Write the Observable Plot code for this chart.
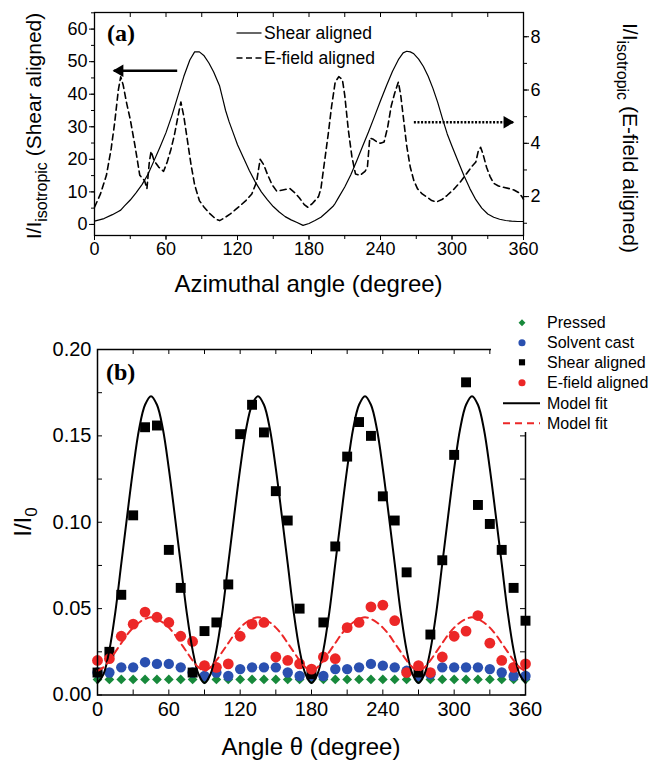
<!DOCTYPE html>
<html><head><meta charset="utf-8">
<script src="https://cdn.jsdelivr.net/npm/d3@7"></script>
<script src="https://cdn.jsdelivr.net/npm/@observablehq/plot@0.6"></script>
<style>
body{margin:0;background:#fff;}
#wrap{position:relative;width:653px;height:764px;overflow:hidden;background:#fff;}
#wrap svg{position:absolute;left:0;}
</style></head><body><div id="wrap"></div>
<script>
// ---------- Panel (a) data ----------
const shearAngleA = [0,8,15,20,22,25,30,35,40,45,50,55,60,65,70,75,80,84,88,92,96,100,105,108,110,113,116,120,125,130,135,140,145,150,155,160,165,170,175,180,185,190,195,200,202,205,210,215,220,225,230,235,240,245,250,255,259,262,265,268,272,276,280,284,288,292,296,300,305,310,315,320,325,330,335,340,345,350,355,360];
const shearValueA = [1.0,1.8,3.0,4.0,4.4,5.6,7.5,9.8,12.3,15.5,19.6,23.8,28.2,33.5,39.5,45.5,50.5,53.0,53.0,51.8,49.6,46.8,42.5,38.0,35.0,31.5,28.5,24.5,20.5,16.5,13.0,10.0,7.6,5.5,3.8,2.4,1.4,0.6,-0.3,0.3,1.2,2.2,3.8,5.5,6.5,8.4,11.5,15.2,19.5,24.0,28.5,33.2,38.0,42.6,47.0,50.6,52.7,53.2,53.0,52.4,50.8,48.5,45.5,41.8,37.5,32.5,27.8,24.0,19.5,15.0,11.0,7.6,5.0,3.2,2.2,1.6,1.2,1.0,0.9,0.9];
const efieldAngleA = [0,5,10,14,17,20,22,24,27,30,34,38,42,44,46,47.5,50,54,58,61,64,67,70,72.5,75,78,81,84,88,92,97,102,105,109,114,118,122,127,132,136,139,142,145,149,153,158,164,168,172,176,179,183,188,190,193,196,199,202,205,208,210,213,216,219,223,227,229,231,234,237,240,243,246,249,252,255,257,259.5,262,265,268,271,275,279,283,287,292,296,301,307,312,317,320,322,324,326,329,332,335,339,343,348,352,356,359,360];
const efieldValueA = [1.6,2.1,2.8,3.8,4.8,6.0,6.5,6.2,5.5,4.9,3.9,2.8,2.6,2.3,3.3,3.7,3.35,3.1,2.95,3.3,3.75,4.3,5.0,5.55,5.0,4.1,3.2,2.45,1.85,1.6,1.35,1.15,1.1,1.2,1.35,1.5,1.65,1.85,2.1,2.55,3.4,3.2,2.85,2.45,2.2,2.25,2.3,2.15,1.95,1.7,1.6,1.75,2.0,2.3,3.3,4.3,5.4,6.3,6.5,6.4,5.8,4.5,3.5,2.85,2.8,2.95,3.1,4.2,4.15,4.05,4.0,4.05,4.6,5.4,5.9,6.3,5.8,4.85,3.9,3.1,2.6,2.3,2.1,1.98,1.85,1.8,1.9,2.05,2.25,2.55,2.85,3.15,3.3,3.7,3.85,3.6,3.1,2.75,2.5,2.4,2.35,2.3,2.25,2.15,1.98,1.9];
const seriesNamesA = ["Shear aligned","E-field aligned"];
const xTickLabels = [0,60,120,180,240,300,360];
const xMinorTicks = [0,30,60,90,120,150,180,210,240,270,300,330,360];
const leftTicksA = [0,10,20,30,40,50,60];
const leftMinorA = [0,5,10,15,20,25,30,35,40,45,50,55,60,65];
const rightTicksA = [2,4,6,8];
const rightMinorA = [1,2,3,4,5,6,7,8];
// annotation arrows (angle, left-axis units)
const arrowSolid = {x1: 69.4, x2: 16.2, y: 47.2};
const arrowDotted = {x1: 268, x2: 351.3, y: 31.4};

// ---------- Panel (b) data ----------
const angleB = [0,10,20,30,40,50,60,70,80,90,100,110,120,130,140,150,160,170,180,190,200,210,220,230,240,250,260,270,280,290,300,310,320,330,340,350,360];
const pressedB = [0.009,0.009,0.009,0.009,0.009,0.009,0.009,0.009,0.009,0.009,0.009,0.009,0.009,0.009,0.009,0.009,0.009,0.009,0.009,0.009,0.009,0.009,0.009,0.009,0.009,0.009,0.009,0.009,0.009,0.009,0.009,0.009,0.009,0.009,0.009,0.009,0.009];
const solventB = [0.013,0.013,0.016,0.016,0.019,0.018,0.018,0.016,0.013,0.011,0.013,0.011,0.015,0.016,0.016,0.016,0.013,0.011,0.011,0.011,0.015,0.015,0.016,0.018,0.017,0.016,0.014,0.011,0.012,0.016,0.016,0.016,0.016,0.015,0.013,0.011,0.011];
const shearB = [0.013,0.025,0.058,0.104,0.155,0.156,0.084,0.062,0.013,0.037,0.042,0.064,0.151,0.168,0.152,0.118,0.101,0.050,0.012,0.042,0.086,0.138,0.158,0.150,0.115,0.101,0.071,0.013,0.035,0.078,0.139,0.181,0.110,0.099,0.084,0.062,0.043];
const efieldB = [0.020,0.021,0.034,0.041,0.048,0.045,0.042,0.034,0.031,0.017,0.016,0.018,0.034,0.041,0.042,0.022,0.020,0.018,0.015,0.022,0.021,0.039,0.042,0.051,0.052,0.043,0.013,0.017,0.013,0.022,0.034,0.037,0.046,0.030,0.020,0.016,0.018];
const fitAngleB = [0,5,10,15,20,25,30,35,40,45,50,55,60,65,70,75,80,85,90,95,100,105,110,115,120,125,130,135,140,145,150,155,160,165,170,175,180,185,190,195,200,205,210,215,220,225,230,235,240,245,250,255,260,265,270,275,280,285,290,295,300,305,310,315,320,325,330,335,340,345,350,355,360];
const fitShearB = [0.007,0.012,0.026,0.048,0.076,0.104,0.131,0.154,0.168,0.173,0.168,0.154,0.131,0.104,0.076,0.048,0.026,0.012,
  0.007,0.012,0.026,0.048,0.076,0.104,0.131,0.154,0.168,0.173,0.168,0.154,0.131,0.104,0.076,0.048,0.026,0.012,
  0.007,0.012,0.026,0.048,0.076,0.104,0.131,0.154,0.168,0.173,0.168,0.154,0.131,0.104,0.076,0.048,0.026,0.012,
  0.007,0.012,0.026,0.048,0.076,0.104,0.131,0.154,0.168,0.173,0.168,0.154,0.131,0.104,0.076,0.048,0.026,0.012,0.007];
const fitEfieldB = [0.014,0.016,0.020,0.025,0.030,0.035,0.039,0.042,0.044,0.045,0.044,0.042,0.039,0.035,0.030,0.025,0.020,0.016,
  0.014,0.016,0.020,0.025,0.030,0.035,0.039,0.042,0.044,0.045,0.044,0.042,0.039,0.035,0.030,0.025,0.020,0.016,
  0.014,0.016,0.020,0.025,0.030,0.035,0.039,0.042,0.044,0.045,0.044,0.042,0.039,0.035,0.030,0.025,0.020,0.016,
  0.014,0.016,0.020,0.025,0.030,0.035,0.039,0.042,0.044,0.045,0.044,0.042,0.039,0.035,0.030,0.025,0.020,0.016,0.014];
const yTicksB = [0,0.05,0.10,0.15,0.20];
const yMinorB = [0,0.025,0.05,0.075,0.10,0.125,0.15,0.175,0.20];
const legendNamesB = ["Pressed","Solvent cast","Shear aligned","E-field aligned","Model fit","Model fit"];

// ---------- styling ----------
const FONT = "'Liberation Sans', Arial, Helvetica, sans-serif";
const GREEN = "#17893b", BLUE = "#2a50b0", RED = "#ec2727";
const wrap = document.getElementById("wrap");

// ---------- Panel (a) ----------
const leftDomain = [-3.4, 65.1];
const rightDomain = [0.54, 8.91];
const toLeft = r => leftDomain[0] + (r - rightDomain[0]) * (leftDomain[1]-leftDomain[0]) / (rightDomain[1]-rightDomain[0]);
const fromLeft = l => rightDomain[0] + (l - leftDomain[0]) * (rightDomain[1]-rightDomain[0]) / (leftDomain[1]-leftDomain[0]);

const shearRowsA = shearAngleA.map((a,i) => ({a, v: shearValueA[i]}));
const efieldRowsA = efieldAngleA.map((a,i) => ({a, v: efieldValueA[i]}));

const HA = 300, mTA = 12, mBA = 65;
const innerHA = HA - mTA - mBA;
const plotA = Plot.plot({
  width: 653, height: HA,
  marginTop: mTA, marginBottom: mBA, marginLeft: 94, marginRight: 130,
  style: {fontFamily: FONT, fontSize: "18px", color: "black", background: "transparent", overflow: "visible"},
  x: {domain: [0, 360]},
  y: {domain: leftDomain},
  marks: [
    Plot.line(shearRowsA, {x: "a", y: "v", stroke: "black", strokeWidth: 1.2}),
    Plot.line(efieldRowsA, {x: "a", y: d => toLeft(d.v), stroke: "black", strokeWidth: 1.6, strokeDasharray: "6,4"}),
    Plot.axisX(xTickLabels, {anchor: "bottom", tickSize: 5, tickPadding: 2, label: null}),
    Plot.axisX(xMinorTicks, {anchor: "bottom", tickSize: 4, fill: "none", label: null}),
    Plot.tickX(xMinorTicks, {x: d => d, insetBottom: innerHA - 5, stroke: "black"}),
    Plot.axisY(leftTicksA, {anchor: "left", tickSize: 5, tickPadding: 2, label: null}),
    Plot.axisY(leftMinorA, {anchor: "left", tickSize: 3, fill: "none", label: null}),
    Plot.axisY(rightTicksA.map(toLeft), {anchor: "right", tickSize: 5, tickPadding: 2, label: null,
      tickFormat: d => String(Math.round(fromLeft(d)))}),
    Plot.axisY(rightMinorA.map(toLeft), {anchor: "right", tickSize: 3, fill: "none", label: null}),
    Plot.frame({stroke: "black", strokeWidth: 1.3}),
    Plot.link([arrowSolid], {x1: "x1", x2: "x2", y1: "y", y2: "y", stroke: "black", strokeWidth: 2.6}),
    Plot.dot([arrowSolid], {x: "x2", y: "y", symbol: "triangle", rotate: -90, r: 4.6, fill: "black", dx: 6}),
    Plot.link([arrowDotted], {x1: "x1", x2: "x2", y1: "y", y2: "y", stroke: "black", strokeWidth: 2.6, strokeDasharray: "2,1.6"}),
    Plot.dot([arrowDotted], {x: "x2", y: "y", symbol: "triangle", rotate: 90, r: 4.6, fill: "black", dx: -6})
  ]
});
plotA.style.top = "0px";
wrap.appendChild(plotA);

{
  const svg = d3.select(plotA);
  const g = svg.append("g").attr("font-family", FONT).attr("fill", "black").attr("text-anchor", "start");
  g.append("text").attr("x", 107).attr("y", 41).attr("font-family", "'Liberation Serif', 'Times New Roman', serif")
    .attr("font-weight", "bold").attr("font-size", 24).text("(a)");
  g.append("text").attr("x", 308.5).attr("y", 292).attr("text-anchor", "middle").attr("font-size", 24)
    .text("Azimuthal angle (degree)");
  const tl = g.append("text").attr("transform", "translate(41,126) rotate(-90)").attr("text-anchor", "middle").attr("font-size", 21);
  tl.append("tspan").text("I/I");
  tl.append("tspan").attr("dy", 6).attr("font-size", 16).text("isotropic");
  tl.append("tspan").attr("dy", -6).text(" (" + seriesNamesA[0] + ")");
  const tr = g.append("text").attr("transform", "translate(623,138) rotate(90)").attr("text-anchor", "middle").attr("font-size", 21);
  tr.append("tspan").text("I/I");
  tr.append("tspan").attr("dy", 6).attr("font-size", 16).text("isotropic");
  tr.append("tspan").attr("dy", -6).text(" (" + seriesNamesA[1] + ")");
  // legend
  const lg = g.append("g").attr("font-size", 17.5);
  lg.append("line").attr("x1", 236.5).attr("x2", 261.5).attr("y1", 33).attr("y2", 33).attr("stroke", "black").attr("stroke-width", 1.2);
  lg.append("text").attr("x", 264).attr("y", 33).attr("dy", "0.35em").text(seriesNamesA[0]);
  lg.append("line").attr("x1", 236.5).attr("x2", 261.5).attr("y1", 58).attr("y2", 58).attr("stroke", "black").attr("stroke-width", 1.6).attr("stroke-dasharray", "6,3.5");
  lg.append("text").attr("x", 264).attr("y", 58).attr("dy", "0.35em").text(seriesNamesA[1]);
}

// ---------- Panel (b) ----------
const rowsB = angleB.map((a,i) => ({a, pressed: pressedB[i], solvent: solventB[i], shear: shearB[i], efield: efieldB[i]}));
const fitRowsB = fitAngleB.map((a,i) => ({a, s: fitShearB[i], e: fitEfieldB[i]}));
const HB = 464, mTB = 49, mBB = 69.5, mLB = 97, mRB = 128;
const innerHB = HB - mTB - mBB, innerWB = 653 - mLB - mRB;
const TK = 5;
const plotB = Plot.plot({
  width: 653, height: HB,
  marginTop: mTB, marginBottom: mBB, marginLeft: mLB, marginRight: mRB,
  style: {fontFamily: FONT, fontSize: "20px", color: "black", background: "transparent", overflow: "visible"},
  x: {domain: [0, 360]},
  y: {domain: [0, 0.2]},
  marks: [
    Plot.dot(rowsB, {x: "a", y: "pressed", symbol: "diamond2", r: 4.4, fill: GREEN}),
    Plot.dot(rowsB, {x: "a", y: "solvent", symbol: "circle", r: 5.2, fill: BLUE}),
    Plot.dot(rowsB, {x: "a", y: "shear", symbol: "square", r: 5.6, fill: "black"}),
    Plot.dot(rowsB, {x: "a", y: "efield", symbol: "circle", r: 5.4, fill: RED}),
    Plot.line(fitRowsB, {x: "a", y: "s", curve: "catmull-rom", stroke: "black", strokeWidth: 2}),
    Plot.line(fitRowsB, {x: "a", y: "e", curve: "catmull-rom", stroke: RED, strokeWidth: 2, strokeDasharray: "7,5"}),
    Plot.axisX(xTickLabels, {anchor: "bottom", tickSize: 0, tickPadding: 7, label: null}),
    Plot.axisY(yTicksB, {anchor: "left", tickSize: 0, tickPadding: 6, label: null, tickFormat: d3.format(".2f")}),
    Plot.tickX(xMinorTicks, {x: d => d, insetTop: innerHB - TK, stroke: "black"}),
    Plot.tickX(xMinorTicks, {x: d => d, insetBottom: innerHB - TK, stroke: "black"}),
    Plot.tickY(yMinorB, {y: d => d, insetRight: innerWB - TK, stroke: "black"}),
    Plot.tickY(yMinorB, {y: d => d, insetLeft: innerWB - TK, stroke: "black"}),
    Plot.frame({stroke: "black", strokeWidth: 1.5})
  ]
});
plotB.style.top = "300px";
wrap.appendChild(plotB);

{
  const svg = d3.select(plotB);
  const g = svg.append("g").attr("font-family", FONT).attr("fill", "black").attr("text-anchor", "start");
  g.append("text").attr("x", 106).attr("y", 80).attr("font-family", "'Liberation Serif', 'Times New Roman', serif")
    .attr("font-weight", "bold").attr("font-size", 24).text("(b)");
  g.append("text").attr("x", 311).attr("y", 455).attr("text-anchor", "middle").attr("font-size", 24)
    .text("Angle θ (degree)");
  const ty = g.append("text").attr("transform", "translate(31,222) rotate(-90)").attr("text-anchor", "middle").attr("font-size", 24);
  ty.append("tspan").text("I/I");
  ty.append("tspan").attr("dy", 6).attr("font-size", 17).text("0");
  // legend (white box covers the frame corner, as in the original)
  const lg = g.append("g").attr("font-size", 16);
  lg.append("rect").attr("x", 491).attr("y", 0).attr("width", 162).attr("height", 132).attr("fill", "white");
  const rowsY = [22.7, 42.7, 62.3, 82.7, 103.3, 123.3];
  const mk = [
    {sym: d3.symbolDiamond2, size: 30, fill: GREEN},
    {sym: d3.symbolCircle, size: 40, fill: BLUE},
    {sym: d3.symbolSquare, size: 38, fill: "black"},
    {sym: d3.symbolCircle, size: 40, fill: RED}
  ];
  mk.forEach((m, i) => {
    lg.append("path").attr("d", d3.symbol(m.sym, m.size)()).attr("fill", m.fill)
      .attr("transform", `translate(522,${rowsY[i]})`);
  });
  lg.append("line").attr("x1", 503).attr("x2", 540).attr("y1", rowsY[4]).attr("y2", rowsY[4]).attr("stroke", "black").attr("stroke-width", 2);
  lg.append("line").attr("x1", 503).attr("x2", 540).attr("y1", rowsY[5]).attr("y2", rowsY[5]).attr("stroke", RED).attr("stroke-width", 2).attr("stroke-dasharray", "7,5");
  legendNamesB.forEach((n, i) => {
    lg.append("text").attr("x", 547).attr("y", rowsY[i]).attr("dy", "0.35em").text(n);
  });
}
</script></body></html>
